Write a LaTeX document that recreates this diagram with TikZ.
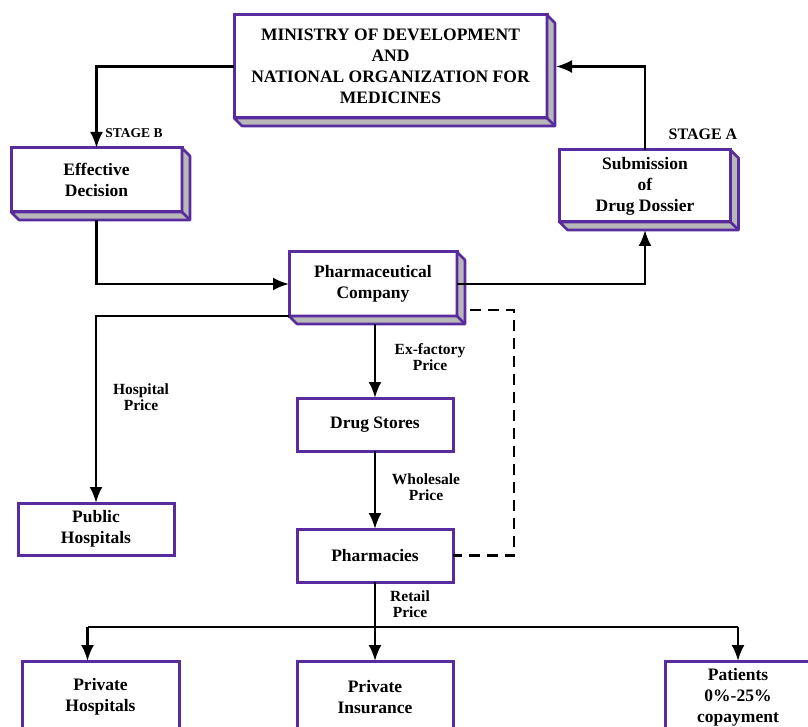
\documentclass[tikz,border=0pt]{standalone}
\usepackage{fontspec}
\setmainfont{Liberation Serif}
\usetikzlibrary{arrows.meta}

\definecolor{boxpurple}{RGB}{88,44,158}
\definecolor{sidegray}{RGB}{184,184,184}

% grey side and bottom faces behind a raised box
\newcommand{\boxdepth}[1]{%
  \filldraw[line width=2.6pt, draw=boxpurple, fill=sidegray, line join=round]
    (#1.north east) -- ++(8,8) -- ([shift={(8,8)}]#1.south east)
    -- ([shift={(8,8)}]#1.south west) -- (#1.south west)
    -- (#1.south east) -- cycle;
  \draw[line width=2.6pt, boxpurple] (#1.south east) -- ++(8,8);}

\begin{document}
\begin{tikzpicture}[
    x=1pt,
    y=-1pt,
    every node/.style={font=\bfseries},
    block/.style={draw=boxpurple, line width=3pt, fill=white, outer sep=0pt,
        align=center, inner sep=0pt, font=\fontsize{17.5}{21}\selectfont\bfseries},
    price/.style={align=center, font=\fontsize{15.5}{16.5}\selectfont\bfseries},
    link/.style={line width=2.5pt},
    arr/.style={link, -{Latex[length=16pt,width=13pt]}}
]

    \useasboundingbox (0,0) rectangle (808,727);

    \node[block, minimum width=313, minimum height=103] (ministry) at (390.5,66.5)
        {MINISTRY OF DEVELOPMENT\\AND\\NATIONAL ORGANIZATION FOR\\MEDICINES};
    \node[block, minimum width=171, minimum height=64] (decision) at (96.5,180)
        {Effective\\Decision};
    \node[block, minimum width=171, minimum height=72] (dossier) at (645,186)
        {Submission\\of\\Drug Dossier};
    \node[block, minimum width=168, minimum height=64] (company) at (373,284)
        {Pharmaceutical\\Company};

    \boxdepth{ministry}
    \boxdepth{decision}
    \boxdepth{dossier}
    \boxdepth{company}

    \node[block, minimum width=156, minimum height=53] (stores) at (375,424.5) {Drug Stores};
    \node[block, minimum width=156, minimum height=52] (public) at (96,529) {Public\\Hospitals};
    \node[block, minimum width=156, minimum height=53] (pharmacies) at (375,555.5) {Pharmacies};

    \node[block, minimum width=157, minimum height=72] (privhosp) at (100.5,697) {Private\\Hospitals};
    \node[block, minimum width=156, minimum height=72] (privins) at (375,697) {Private\\Insurance};
    \node[block, minimum width=146, minimum height=72] (patients) at (738,697) {Patients\\0\%-25\%\\copayment};

    % approval cycle
    \draw[arr] (ministry.west) -| (decision.north);
    \node[font=\fontsize{13.5}{15}\selectfont\bfseries] (stageb) at (134,133) {STAGE B};
    \draw[arr] ([yshift=-8]decision.south) |- (company.west);
    \draw[arr] (company.east) -| ([yshift=-8]dossier.south);
    \draw[arr] (dossier.north) |- ([xshift=9]ministry.east);
    \node[font=\fontsize{16}{18}\selectfont\bfseries] (stagea) at (703,134) {STAGE A};

    % distribution chain
    \draw[arr] (company.south west) -| (public.north);
    \node[price] (hospprice) at (141,397) {Hospital\\Price};
    \draw[arr] ([yshift=-8]company.south -| stores.north) -- (stores.north);
    \node[price] (exfactory) at (430,357) {Ex-factory\\Price};
    \draw[arr] (stores.south) -- (pharmacies.north);
    \node[price] (wholesale) at (426,487) {Wholesale\\Price};
    \draw[link, dash pattern=on 11pt off 7pt]
        ([shift={(13,-6)}]company.south east) -- ++(44,0) |- (pharmacies.east);

    \coordinate (split) at (375,627);
    \draw[link] (pharmacies.south) -- (split);
    \node[price] (retail) at (410,604) {Retail\\Price};
    \draw[link] ([xshift=-13]privhosp.north |- split) -- (patients.north |- split);
    \draw[arr] ([xshift=-13]privhosp.north |- split) -- ([xshift=-13]privhosp.north);
    \draw[arr] (split) -- (privins.north);
    \draw[arr] (patients.north |- split) -- (patients.north);

\end{tikzpicture}
\end{document}
